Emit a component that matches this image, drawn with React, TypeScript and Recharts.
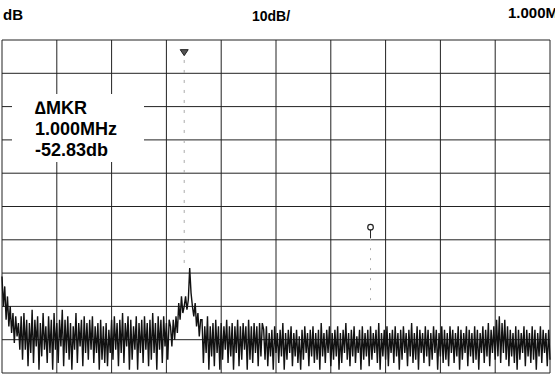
import React from 'react';
import { LineChart, Line, XAxis, YAxis, CartesianGrid, ReferenceLine, ReferenceDot } from 'recharts';

// Spectrum analyser trace, 401 points, amplitude in dB (top of screen = 0 dB, 10 dB/div)
const leftEdge = [-71, -80, -74, -84, -77, -86, -80, -88, -82, -91, -83, -89, -85, -93];

const lowBand = [
  -83, -96, -82, -93, -84, -98, -85, -94, -81, -97,
  -84, -92, -83, -99, -85, -95, -82, -93, -86, -97,
  -83, -94, -84, -99, -82, -93, -85, -97, -84, -92,
  -81, -98, -84, -94, -83, -96, -85, -99, -86, -93,
  -82, -97, -85, -92, -84, -98, -83, -94, -85, -96,
  -84, -93, -83, -97, -86, -94, -85, -99, -84, -96,
  -86, -97, -85, -98, -87, -94, -84, -96, -83, -93,
  -85, -98, -84, -94, -82, -97, -85, -92, -83, -99,
  -84, -96, -86, -93, -83, -99, -85, -94, -84, -97,
  -83, -93, -85, -98, -84, -96, -82, -94, -85, -99,
  -83, -93, -84, -97, -83, -92, -85, -96, -84,
];

const carrier = [
  -86, -92, -84, -90, -83, -88,
  -79, -84, -77, -82,
  -80, -77, -81, -78,
  -68.5, -76,
  -80, -83, -79, -86, -82, -89, -84,
];

const midBand = [
  -84, -97, -86, -94, -83, -99, -86, -95, -85, -98,
  -84, -94, -86, -99, -85, -96, -86, -93, -84, -97,
  -86, -95, -85, -99, -86, -94, -84, -98, -86, -96,
  -85, -93, -86, -99, -84, -96, -86, -97, -85, -94,
  -86, -98, -85, -95, -85,
];

const highBand = [
  -87, -96, -86, -98, -88, -95, -87, -99, -86, -94,
  -88, -97, -87, -95, -85, -99, -88, -96, -87, -94,
  -86, -98, -88, -95, -87, -97, -89, -99, -87, -96,
  -86, -94, -88, -98, -87, -95, -86, -97, -88, -96,
  -87, -99, -85, -95, -88, -97, -87, -94, -86, -98,
  -88, -96, -87, -95, -86, -99, -88, -97, -87, -94,
  -85, -96, -88, -98, -87, -95, -86, -97, -89, -94,
  -87, -99, -86, -96, -88, -95, -87, -98, -86, -96,
  -88, -94, -87, -97, -85, -99, -88, -95, -87, -96,
  -86, -98, -88, -94, -87, -97, -86, -95, -88, -99,
  -87, -96, -86, -94, -88, -98, -87, -95, -85, -97,
  -88, -96, -86, -99, -87, -94, -88, -97, -86, -95,
  -87, -98, -88, -96, -86, -94, -87, -99, -88, -95,
  -86, -97, -87, -96, -88, -98, -86, -94, -87, -97,
  -88, -95, -86, -99, -87, -96, -88, -94, -86, -98,
  -87, -95, -88, -97, -86, -96, -87, -99, -88, -94,
  -86, -97, -87, -95, -85, -98, -87, -94, -86, -96,
  -84, -95, -83, -97, -85, -94, -84, -96, -86, -98,
  -87, -95, -88, -97, -86, -99, -87, -96, -88, -94,
  -86, -98, -87, -95, -88, -97, -86, -96, -87, -99,
  -88, -95, -86, -97, -87, -94, -88, -98, -87, -96,
];

const traceDb = [...leftEdge, ...lowBand, ...carrier, ...midBand, ...highBand];

const xTicks = [0, 40, 80, 120, 160, 200, 240, 280, 320, 360, 400];
const yTicks = [-100, -90, -80, -70, -60, -50, -40, -30, -20, -10, 0];

// markers: x = trace point, y = dB
const mkrTriangle = { x: 133, y: -3.8, lineTop: -6, lineBottom: -69 };
const mkrDelta = { x: 269, y: -56.2, stemBottom: -59.5, dotBottom: -80.5 };

const headerLeft = 'dB';
const headerMid = '10dB/';
const headerRight = '1.000MHz';
const readout = ['\u2206MKR', '1.000MHz', '-52.83db'];

const data = traceDb.map((db, i) => ({ idx: i, db }));

const Triangle = (props: any) => {
  const { cx, cy } = props;
  return <path d={`M${cx - 4},${cy - 3} L${cx + 4},${cy - 3} L${cx},${cy + 3} Z`} fill="#555" stroke="#222" strokeWidth={1} />;
};

const Circle = (props: any) => {
  const { cx, cy } = props;
  return <circle cx={cx} cy={cy} r={2.8} fill="#fff" stroke="#222" strokeWidth={1.2} />;
};

const font = '"Liberation Sans", Arial, sans-serif';

export default function App() {
  return (
    <div style={{ position: 'fixed', left: 0, top: 0, width: 555, height: 381, background: '#fff', overflow: 'hidden', fontFamily: font }}>
      <LineChart width={555} height={381} data={data} margin={{ top: 40, right: 5, bottom: 8, left: 2 }}>
        <XAxis type="number" dataKey="idx" domain={[0, 400]} ticks={xTicks} hide />
        <YAxis type="number" domain={[-100, 0]} ticks={yTicks} hide />
        <CartesianGrid stroke="#222" strokeWidth={1} />
        <ReferenceLine
          segment={[{ x: mkrTriangle.x, y: mkrTriangle.lineTop }, { x: mkrTriangle.x, y: mkrTriangle.lineBottom }]}
          stroke="#aaa"
          strokeDasharray="3 7"
        />
        <ReferenceLine
          segment={[{ x: mkrDelta.x, y: mkrDelta.y }, { x: mkrDelta.x, y: mkrDelta.stemBottom }]}
          stroke="#222"
        />
        <ReferenceLine
          segment={[{ x: mkrDelta.x, y: mkrDelta.stemBottom }, { x: mkrDelta.x, y: mkrDelta.dotBottom }]}
          stroke="#aaa"
          strokeDasharray="2 8"
        />
        <Line type="linear" dataKey="db" stroke="#111" strokeWidth={1.4} dot={false} isAnimationActive={false} />
        <ReferenceDot x={mkrTriangle.x} y={mkrTriangle.y} shape={<Triangle />} />
        <ReferenceDot x={mkrDelta.x} y={mkrDelta.y} shape={<Circle />} />
      </LineChart>
      <div style={{ position: 'absolute', left: 3, top: 6, fontSize: 15, fontWeight: 700 }}>{headerLeft}</div>
      <div style={{ position: 'absolute', left: 252, top: 8, fontSize: 14, fontWeight: 700 }}>{headerMid}</div>
      <div style={{ position: 'absolute', left: 508, top: 4, fontSize: 15, fontWeight: 700, whiteSpace: 'nowrap' }}>{headerRight}</div>
      <div style={{ position: 'absolute', left: 12, top: 94, width: 132, height: 68, background: '#fff' }} />
      <div style={{ position: 'absolute', left: 35, top: 98, fontSize: 18, fontWeight: 700, lineHeight: '21px' }}>
        {readout.map((t) => (
          <div key={t}>{t}</div>
        ))}
      </div>
    </div>
  );
}
